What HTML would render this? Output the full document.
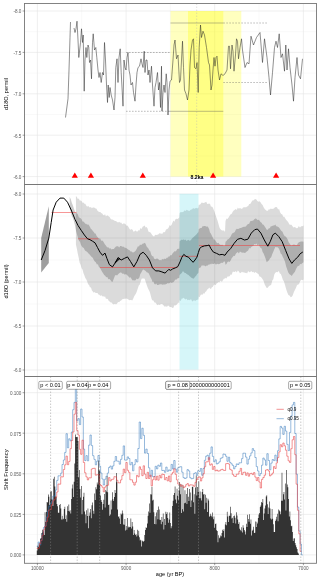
<!DOCTYPE html><html><head><meta charset="utf-8"><title>plot</title><style>html,body{margin:0;padding:0;background:#fff}svg{display:block}</style></head><body><svg width="320" height="581" viewBox="0 0 320 581" font-family="Liberation Sans, sans-serif"><rect width="320" height="581" fill="#fff"/><line x1="24.5" x2="316.5" y1="31.7" y2="31.7" stroke="#eeeeee" stroke-width="0.35"/><line x1="24.5" x2="316.5" y1="73.1" y2="73.1" stroke="#eeeeee" stroke-width="0.35"/><line x1="24.5" x2="316.5" y1="114.5" y2="114.5" stroke="#eeeeee" stroke-width="0.35"/><line x1="24.5" x2="316.5" y1="155.9" y2="155.9" stroke="#eeeeee" stroke-width="0.35"/><line x1="81.7" x2="81.7" y1="3.5" y2="184.5" stroke="#eeeeee" stroke-width="0.35"/><line x1="170.4" x2="170.4" y1="3.5" y2="184.5" stroke="#eeeeee" stroke-width="0.35"/><line x1="259.0" x2="259.0" y1="3.5" y2="184.5" stroke="#eeeeee" stroke-width="0.35"/><line x1="24.5" x2="316.5" y1="11.0" y2="11.0" stroke="#e4e4e4" stroke-width="0.6"/><line x1="24.5" x2="316.5" y1="52.4" y2="52.4" stroke="#e4e4e4" stroke-width="0.6"/><line x1="24.5" x2="316.5" y1="93.8" y2="93.8" stroke="#e4e4e4" stroke-width="0.6"/><line x1="24.5" x2="316.5" y1="135.2" y2="135.2" stroke="#e4e4e4" stroke-width="0.6"/><line x1="24.5" x2="316.5" y1="176.6" y2="176.6" stroke="#e4e4e4" stroke-width="0.6"/><line x1="37.4" x2="37.4" y1="3.5" y2="184.5" stroke="#e4e4e4" stroke-width="0.6"/><line x1="126.1" x2="126.1" y1="3.5" y2="184.5" stroke="#e4e4e4" stroke-width="0.6"/><line x1="214.7" x2="214.7" y1="3.5" y2="184.5" stroke="#e4e4e4" stroke-width="0.6"/><line x1="303.4" x2="303.4" y1="3.5" y2="184.5" stroke="#e4e4e4" stroke-width="0.6"/><rect x="170.5" y="11" width="70.8" height="165.6" fill="#ffff00" fill-opacity="0.25"/><rect x="188" y="11" width="35.3" height="165.6" fill="#ffff00" fill-opacity="0.3"/><line x1="196.7" x2="196.7" y1="3.5" y2="184.5" stroke="#b5b5b5" stroke-width="0.4" stroke-dasharray="1.5,1.5"/><g stroke="#555" stroke-width="0.4" fill="none"><line x1="170.5" x2="223.3" y1="23" y2="23"/><line x1="168" x2="223.3" y1="111.3" y2="111.3"/><g stroke-dasharray="1.6,1.4"><line x1="126" x2="170.5" y1="52.5" y2="52.5"/><line x1="126" x2="168" y1="111.3" y2="111.3"/><line x1="223.3" x2="268" y1="23" y2="23"/><line x1="223.3" x2="268" y1="82.5" y2="82.5"/></g></g><polyline points="65.5,117.5 68.0,98.8 69.0,70.0 70.0,37.5 70.5,22.0" fill="none" stroke="#222" stroke-width="0.5" stroke-linejoin="round"/><polyline points="74.0,28.0 75.0,32.5 76.0,28.8 77.0,21.2 78.0,40.0 78.8,57.5 80.5,42.5 81.5,28.8 82.5,42.5 83.2,35.0 84.2,91.2 85.0,60.0 86.0,47.5 86.8,57.5 88.0,45.0 88.8,47.5 89.5,62.5 90.5,60.0 91.5,78.8 92.5,42.5 93.2,33.8 94.5,50.0 95.8,47.5 96.8,57.5 98.0,70.0 99.0,77.5 100.0,72.5 101.2,82.5 102.5,72.5 103.5,75.0 104.5,42.5 105.5,60.0 106.5,85.0 107.5,102.5 108.2,85.0 109.2,97.5 110.0,87.5 111.2,95.0 112.5,100.0 114.0,110.0 115.0,97.5 115.8,67.5 117.0,58.8 118.0,82.5 119.0,57.5 120.2,48.8 121.2,72.5 123.0,106.2 124.0,60.0 125.0,67.5 126.0,70.0 127.0,57.5 128.0,52.5 129.0,70.0 130.0,75.0 131.0,85.0 132.5,82.5 133.5,92.5 135.0,101.2 136.0,85.0 137.0,72.5 138.0,67.5 139.5,66.2 141.0,58.8 142.0,63.8 143.0,67.5 144.2,51.2 145.0,72.5 146.0,60.0 147.0,60.0 148.0,75.0 149.0,70.0 150.0,82.5 151.5,66.2 152.5,85.0 154.0,106.2 155.0,87.5 156.0,82.5 157.5,72.5 158.5,90.0 159.5,82.5 160.5,107.5 161.5,66.2 162.0,111.2 163.0,92.5 164.0,85.0 165.0,92.5 166.2,73.8 167.0,82.5 168.0,115.0 169.0,90.0 170.0,81.2 171.5,80.0 173.0,60.0 174.0,45.0 175.0,40.0 176.5,58.8 178.0,55.0 179.5,82.5 180.5,80.0 181.5,60.0 182.5,41.2 183.5,67.5 184.5,90.0 186.0,93.8 187.5,100.0 189.0,90.0 190.0,65.0 191.0,50.0 192.5,40.0 193.5,38.8 194.5,67.5 196.0,68.8 197.0,62.5 198.2,92.5 199.2,47.5 200.5,25.0 201.5,37.5 203.0,31.2 204.5,35.0 206.5,47.5 208.5,62.5 209.5,65.0 211.0,90.0 212.0,85.0 213.0,70.0 214.0,57.5 215.0,66.2 216.0,57.5 217.0,56.2 218.0,70.0 219.5,80.0 221.0,73.8 223.0,75.5 225.0,73.8 227.0,70.0 228.5,46.2 229.5,46.2 230.5,68.8 232.0,45.0 233.0,51.2 234.0,71.2 235.5,55.0 236.5,38.8 237.5,41.2 238.5,58.8 240.0,47.5 241.5,38.8 242.5,50.0 245.0,67.5 247.0,62.5 249.0,63.8 251.0,36.2 253.5,45.0 256.5,37.5 260.0,32.5 262.5,62.5 264.5,38.8 267.0,57.5 269.0,77.5 270.5,95.0 272.5,72.5 274.5,47.5 276.0,41.2 277.5,47.5 279.2,33.8 281.0,57.5 282.5,53.8 284.5,71.2 285.8,45.0 287.0,70.0 288.5,48.8 290.0,67.5 292.0,85.0 293.5,101.2 295.0,77.5 297.0,57.5 298.5,75.0 300.5,78.8 302.5,58.8" fill="none" stroke="#222" stroke-width="0.5" stroke-linejoin="round"/><path d="M71.7,177.8L77.9,177.8L74.8,172.5Z" fill="#ff0000"/><path d="M87.8,177.8L94.0,177.8L90.9,172.5Z" fill="#ff0000"/><path d="M139.7,177.8L145.9,177.8L142.8,172.5Z" fill="#ff0000"/><path d="M210.0,177.8L216.2,177.8L213.1,172.5Z" fill="#ff0000"/><path d="M273.0,177.8L279.2,177.8L276.1,172.5Z" fill="#ff0000"/><text x="197" y="178.8" font-size="5.2" font-weight="bold" text-anchor="middle" fill="#000">8.2ka</text><line x1="24.5" x2="316.5" y1="216.0" y2="216.0" stroke="#eeeeee" stroke-width="0.35"/><line x1="24.5" x2="316.5" y1="260.0" y2="260.0" stroke="#eeeeee" stroke-width="0.35"/><line x1="24.5" x2="316.5" y1="304.0" y2="304.0" stroke="#eeeeee" stroke-width="0.35"/><line x1="24.5" x2="316.5" y1="348.0" y2="348.0" stroke="#eeeeee" stroke-width="0.35"/><line x1="81.7" x2="81.7" y1="184.5" y2="376.5" stroke="#eeeeee" stroke-width="0.35"/><line x1="170.4" x2="170.4" y1="184.5" y2="376.5" stroke="#eeeeee" stroke-width="0.35"/><line x1="259.0" x2="259.0" y1="184.5" y2="376.5" stroke="#eeeeee" stroke-width="0.35"/><line x1="24.5" x2="316.5" y1="194.0" y2="194.0" stroke="#e4e4e4" stroke-width="0.6"/><line x1="24.5" x2="316.5" y1="238.0" y2="238.0" stroke="#e4e4e4" stroke-width="0.6"/><line x1="24.5" x2="316.5" y1="282.0" y2="282.0" stroke="#e4e4e4" stroke-width="0.6"/><line x1="24.5" x2="316.5" y1="326.0" y2="326.0" stroke="#e4e4e4" stroke-width="0.6"/><line x1="24.5" x2="316.5" y1="370.0" y2="370.0" stroke="#e4e4e4" stroke-width="0.6"/><line x1="37.4" x2="37.4" y1="184.5" y2="376.5" stroke="#e4e4e4" stroke-width="0.6"/><line x1="126.1" x2="126.1" y1="184.5" y2="376.5" stroke="#e4e4e4" stroke-width="0.6"/><line x1="214.7" x2="214.7" y1="184.5" y2="376.5" stroke="#e4e4e4" stroke-width="0.6"/><line x1="303.4" x2="303.4" y1="184.5" y2="376.5" stroke="#e4e4e4" stroke-width="0.6"/><polygon points="75.9,195.9 76.9,197.0 77.8,198.9 78.8,198.6 79.7,200.6 80.6,200.6 81.6,201.1 82.5,202.7 83.4,202.6 84.4,203.8 85.3,203.7 86.2,205.5 87.2,206.8 88.1,205.7 89.1,206.9 90.0,207.5 90.9,206.9 91.9,208.2 92.8,207.6 93.8,207.5 94.7,207.7 95.6,208.4 96.6,208.7 97.5,210.7 98.4,211.6 99.4,211.9 100.3,212.0 101.2,213.1 102.2,213.6 103.1,214.7 104.1,215.6 105.0,214.1 105.9,216.5 106.9,215.4 107.8,215.6 108.8,216.6 109.7,217.0 110.6,218.7 111.6,219.5 112.5,219.4 113.8,220.3 115.0,220.9 116.0,221.1 117.1,222.0 118.1,222.6 119.2,221.7 120.2,222.8 121.2,222.5 122.3,224.2 123.3,223.5 124.4,223.4 125.4,223.9 126.5,225.7 127.5,225.6 128.5,227.1 129.6,228.9 130.6,229.7 131.7,229.1 132.7,230.0 133.8,231.9 134.7,230.9 135.6,230.4 136.6,231.5 137.5,231.6 138.4,230.3 139.5,230.6 140.5,228.1 141.6,228.9 142.6,226.7 143.6,226.2 144.7,225.6 145.6,227.5 146.6,227.0 147.5,228.3 148.4,231.5 149.4,231.9 150.3,232.3 151.2,233.4 152.2,234.9 153.1,236.1 154.1,236.6 155.1,234.8 156.1,235.1 157.2,234.8 158.2,234.4 159.3,233.2 160.3,233.4 161.2,233.4 162.2,234.0 163.1,232.2 164.1,232.3 165.0,231.9 165.9,229.7 166.9,229.0 167.8,228.8 168.8,227.2 169.7,225.0 170.6,225.9 171.6,224.8 172.5,222.5 173.4,220.5 174.4,221.8 175.3,219.4 176.3,218.8 177.3,219.0 178.3,218.4 179.3,217.3 179.6,213.1 180.8,212.1 181.9,212.2 182.8,212.0 183.8,211.4 184.7,210.3 185.6,211.1 186.6,209.7 187.5,210.3 188.5,210.8 189.4,211.1 190.3,210.1 191.3,209.4 192.2,209.2 193.1,207.9 194.1,208.7 195.0,208.5 196.1,207.8 197.3,208.4 198.4,207.5 198.8,204.7 199.7,204.7 200.6,203.9 201.6,202.5 202.5,202.8 203.5,203.0 204.4,202.8 205.3,202.3 206.3,201.8 207.2,204.0 208.2,203.8 209.1,203.8 210.0,203.7 211.0,206.8 211.9,206.6 212.8,207.5 213.8,209.9 214.7,212.2 215.7,215.6 216.6,218.1 217.5,220.6 218.5,224.1 219.4,227.2 220.3,229.0 221.3,230.0 222.2,230.4 223.2,230.5 224.1,230.6 225.0,231.9 225.5,221.1 226.5,218.6 227.5,218.9 228.6,217.6 229.6,215.7 230.6,214.2 231.7,213.8 232.7,211.8 233.7,210.5 234.8,209.8 235.8,209.1 236.8,209.9 237.8,207.6 238.9,208.7 239.9,207.9 240.9,208.4 242.0,208.9 243.0,207.6 244.0,207.3 245.1,207.3 246.1,207.3 247.1,206.4 248.2,206.0 249.2,203.9 250.2,204.1 251.3,202.2 252.3,200.6 253.3,200.5 254.3,199.5 255.4,199.0 256.4,199.4 257.4,201.1 258.5,201.8 259.5,201.3 260.5,202.2 261.6,203.9 262.6,205.1 263.6,207.3 264.7,208.9 265.7,210.1 266.7,210.8 267.8,210.7 268.8,209.2 269.8,209.5 270.8,208.6 271.9,209.1 272.9,208.8 273.9,208.6 275.0,207.3 276.0,207.0 277.0,207.3 278.1,209.5 279.1,208.9 280.1,212.3 281.2,213.9 282.2,214.2 283.2,216.8 284.3,216.7 285.3,218.5 286.3,219.9 287.3,221.1 288.4,222.5 289.4,224.4 290.4,224.7 291.5,224.7 292.5,226.3 293.5,227.5 294.6,226.9 295.6,227.5 296.6,228.2 297.7,228.0 298.8,226.1 300.0,227.5 301.1,226.3 302.3,226.3 303.5,225.6 303.5,279.5 302.4,280.3 301.2,279.7 300.1,281.3 299.0,284.2 298.0,284.4 297.0,285.3 295.9,288.1 294.9,289.9 293.9,292.0 292.8,295.2 291.8,296.7 290.7,297.2 289.5,295.4 288.4,295.0 287.3,292.5 286.1,289.1 285.0,285.1 283.9,281.3 282.9,280.1 281.8,276.4 280.8,274.0 279.8,273.5 278.8,270.9 277.6,272.2 276.5,272.0 275.3,272.7 274.3,274.4 273.3,279.2 272.2,280.8 271.2,284.7 270.1,285.5 269.0,286.1 267.8,287.8 266.7,288.1 265.7,286.3 264.7,284.6 263.6,281.1 262.6,279.3 261.6,277.8 260.5,276.7 259.5,276.5 258.5,274.0 257.4,273.5 256.4,272.7 255.4,272.0 254.3,273.1 253.3,271.8 252.3,272.2 251.3,270.9 250.2,271.9 249.2,272.3 248.2,271.1 247.1,273.4 246.1,272.7 245.1,273.1 244.0,272.2 243.0,272.4 242.0,271.7 240.9,272.7 239.9,273.2 238.9,271.4 237.8,270.6 236.8,272.4 235.8,270.9 234.8,271.9 233.7,271.8 232.7,271.8 231.7,274.8 230.6,274.4 229.6,276.2 228.6,276.5 227.5,276.4 226.5,278.4 225.5,277.8 225.0,278.8 224.1,278.5 223.2,279.7 222.2,281.5 221.3,281.5 220.3,280.7 219.4,282.5 218.5,282.0 217.5,283.1 216.6,283.6 215.7,285.3 214.7,284.6 213.8,285.0 212.8,287.0 211.9,287.2 211.0,288.9 210.0,288.6 209.1,287.6 208.2,289.1 207.2,289.6 206.3,291.3 205.3,291.9 204.4,293.7 203.5,293.2 202.5,294.7 201.6,294.5 200.6,295.1 199.7,297.3 198.8,296.6 198.4,299.4 197.2,299.8 196.0,300.3 195.0,301.3 194.1,300.1 193.1,300.9 192.2,301.4 191.3,299.5 190.3,299.5 189.4,300.3 188.5,299.7 187.5,300.2 186.6,298.8 185.6,299.4 184.7,299.0 183.8,297.7 182.8,298.5 181.8,298.4 180.7,300.9 179.6,300.3 179.3,303.2 178.3,302.6 177.3,304.1 176.3,305.0 175.3,305.5 174.4,305.3 173.4,307.7 172.5,307.9 171.6,307.3 170.6,307.1 169.7,306.9 168.8,305.7 167.8,305.8 166.9,306.9 165.9,306.1 165.0,306.9 163.4,305.3 162.4,304.3 161.4,304.1 160.3,304.5 159.3,305.1 158.2,304.5 157.2,305.3 156.2,303.6 155.3,302.6 154.4,302.4 153.4,300.6 152.5,300.6 151.6,298.9 150.6,294.9 149.7,291.8 148.8,289.9 147.8,288.1 146.8,285.3 145.7,282.0 144.7,278.8 143.6,278.4 142.6,278.4 141.6,278.8 140.6,281.8 139.7,284.8 138.8,285.4 137.8,288.5 136.9,291.2 135.9,293.8 135.0,294.9 134.1,296.4 133.1,299.1 132.2,300.6 131.2,300.1 130.3,300.1 129.4,300.2 128.4,299.4 127.5,299.1 126.5,298.4 125.4,298.8 124.4,298.7 123.3,298.9 122.3,299.3 121.2,300.6 120.2,301.1 119.2,302.3 118.1,302.0 117.1,303.6 116.0,304.4 115.0,303.8 113.8,304.5 112.5,303.8 111.6,302.4 110.6,302.5 109.7,301.5 108.8,301.1 107.8,299.1 106.9,298.7 105.9,298.7 105.0,296.2 104.1,297.1 103.1,295.9 102.2,296.6 101.2,294.9 100.3,296.1 99.4,294.8 98.4,294.4 97.5,293.0 96.6,293.1 95.6,293.1 94.7,292.0 93.8,292.8 92.8,291.6 91.9,290.4 90.9,287.2 90.0,287.6 89.1,285.0 88.1,284.3 87.2,281.4 86.2,279.2 85.3,277.9 84.4,275.6 83.4,273.1 82.5,269.4 81.6,268.2 80.6,264.8 79.7,263.1 78.8,258.3 77.8,253.8 76.9,249.0 75.9,244.4" fill="#000" fill-opacity="0.14"/><polygon points="69.7,196.9 70.8,199.3 71.8,202.8 72.9,205.4 73.9,208.8 75.0,211.6 75.9,213.1 76.9,213.2 77.8,214.3 78.8,217.2 79.7,217.8 80.6,218.3 81.6,219.2 82.5,221.6 83.4,221.5 84.4,222.5 85.3,223.8 86.2,223.7 87.2,224.7 88.1,224.3 89.1,225.6 90.0,227.1 90.9,228.9 91.9,229.4 92.8,231.1 93.8,231.9 94.7,233.5 95.6,233.5 96.6,236.1 97.5,237.1 98.4,238.1 99.4,238.4 100.3,238.4 101.2,240.7 102.2,240.6 103.1,241.2 104.1,242.9 105.0,244.5 105.9,245.4 106.9,247.1 107.8,247.5 108.8,247.6 109.7,248.7 110.6,248.3 111.6,249.6 112.5,249.1 113.8,249.0 115.0,247.5 116.0,246.4 117.1,246.3 118.1,246.2 119.2,247.4 120.2,246.1 121.2,245.9 122.3,246.7 123.3,246.6 124.4,247.5 125.4,247.8 126.5,248.2 127.5,249.1 128.5,249.8 129.6,250.3 130.6,251.4 131.7,251.5 132.7,252.5 133.8,252.2 134.8,251.6 135.8,250.6 136.9,248.6 137.9,246.3 139.0,246.4 140.0,244.4 140.9,245.0 141.9,244.6 142.8,243.6 143.8,243.6 144.7,242.8 145.6,243.8 146.6,246.6 147.5,247.6 148.4,248.6 149.4,250.6 150.3,251.3 151.2,254.5 152.2,256.3 153.1,256.1 154.1,258.4 155.1,259.3 156.1,258.8 157.2,258.5 158.2,259.1 159.3,260.3 160.3,260.0 161.2,260.6 162.2,258.7 163.1,259.7 164.1,258.4 165.0,259.1 165.9,258.8 166.9,257.4 167.8,257.8 168.8,256.3 169.7,256.6 170.6,254.9 171.6,255.2 172.5,253.5 173.4,252.4 174.4,251.2 175.3,251.6 176.3,250.7 177.3,249.1 178.3,248.8 179.3,248.8 179.6,241.3 180.8,240.2 181.9,239.4 182.8,239.9 183.8,239.3 184.7,240.3 185.6,239.4 186.6,241.1 187.5,240.3 188.5,239.7 189.4,240.8 190.3,240.4 191.3,239.4 192.2,238.2 193.1,237.5 194.1,236.6 195.0,235.7 196.1,234.7 197.3,233.3 198.4,231.9 198.8,229.1 199.7,228.5 200.6,227.9 201.6,227.9 202.5,226.3 203.5,226.2 204.4,225.9 205.3,225.9 206.3,226.8 207.2,226.3 208.2,227.2 209.1,229.0 210.0,232.5 211.0,233.8 211.9,235.7 212.8,237.6 213.8,239.4 214.7,239.4 215.7,241.1 216.6,242.4 217.5,243.2 218.5,242.7 219.4,244.3 220.3,244.8 221.3,245.0 222.2,244.4 223.2,245.8 224.1,245.7 225.0,246.0 225.5,241.7 226.5,241.0 227.5,239.4 228.6,239.0 229.6,238.1 230.6,236.6 231.7,234.2 232.7,232.9 233.7,232.8 234.8,232.0 235.8,229.7 236.8,228.8 237.8,228.9 238.9,228.8 239.9,228.0 240.9,228.0 242.0,227.4 243.0,226.9 244.0,226.7 245.1,226.8 246.1,226.3 247.1,224.8 248.2,223.9 249.2,223.7 250.2,221.2 251.3,221.1 252.3,220.8 253.3,220.6 254.3,219.3 255.4,218.6 256.4,218.7 257.4,220.1 258.5,219.8 259.5,220.5 260.5,221.9 261.6,222.8 262.6,224.6 263.6,224.8 264.7,226.6 265.7,228.0 266.7,229.7 267.8,229.7 268.8,228.2 269.8,228.3 270.8,226.3 271.9,226.3 273.0,225.4 274.2,225.4 275.3,224.5 276.3,226.3 277.4,226.5 278.4,227.1 279.4,227.9 280.5,229.7 281.5,231.1 282.5,231.8 283.6,234.4 284.6,235.9 285.6,236.6 286.7,237.7 287.7,239.6 288.7,242.3 289.8,243.7 290.8,245.2 291.8,245.8 292.8,244.8 293.9,244.4 294.9,244.7 295.9,245.2 297.0,244.9 298.0,243.0 299.0,242.3 300.1,241.7 301.2,241.6 302.4,241.6 303.5,241.7 303.5,262.3 302.4,263.0 301.2,264.3 300.1,264.1 299.0,265.9 298.0,265.8 297.0,267.2 295.9,269.2 294.9,271.7 293.9,272.9 292.8,274.3 291.8,276.1 290.7,275.0 289.5,274.2 288.4,272.7 287.3,269.7 286.1,266.2 285.0,261.7 283.9,258.9 282.9,257.3 281.8,254.6 280.8,253.7 279.8,250.7 278.8,248.6 277.6,247.2 276.5,247.3 275.3,246.9 274.3,249.2 273.3,251.8 272.2,254.3 271.2,257.2 270.1,258.3 269.0,260.3 267.8,261.3 266.7,262.3 265.7,259.1 264.7,256.2 263.6,253.6 262.6,252.0 261.6,248.6 260.5,247.7 259.5,246.2 258.5,244.6 257.4,245.3 256.4,243.4 255.4,244.6 254.3,244.0 253.3,245.9 252.3,246.2 251.3,246.9 250.2,248.4 249.2,248.0 248.2,250.6 247.1,251.2 246.1,252.0 245.1,252.9 244.0,252.7 243.0,252.4 242.0,252.7 240.9,252.0 239.9,251.6 238.9,253.4 237.8,252.1 236.8,252.8 235.8,253.8 234.8,255.9 233.7,255.7 232.7,257.1 231.7,258.3 230.6,260.6 229.6,262.0 228.6,261.6 227.5,262.1 226.5,264.1 225.5,264.8 225.0,261.9 224.1,261.3 223.2,262.5 222.2,263.1 221.3,262.8 220.3,263.4 219.4,263.9 218.5,264.3 217.5,263.8 216.6,264.2 215.7,264.6 214.7,263.3 213.8,264.1 212.8,264.0 211.9,263.5 211.0,264.4 210.0,263.8 209.1,265.0 208.2,264.4 207.2,266.0 206.3,265.6 205.3,266.4 204.4,265.5 203.5,265.5 202.5,265.6 201.6,265.5 200.6,267.4 199.7,267.8 198.8,268.5 198.4,273.1 197.2,274.0 196.0,276.0 195.0,276.8 194.1,278.2 193.1,278.8 192.2,277.9 191.3,277.8 190.3,276.7 189.4,276.0 188.5,275.0 187.5,274.4 186.6,274.1 185.6,273.1 184.7,273.1 183.8,271.7 182.8,271.3 181.8,273.1 180.7,274.0 179.6,275.0 179.3,277.8 178.3,278.2 177.3,278.4 176.3,279.7 175.3,279.6 174.4,280.9 173.4,282.3 172.5,282.5 171.6,282.9 170.6,282.2 169.7,282.9 168.8,283.5 167.8,283.1 166.9,283.7 165.9,284.3 165.0,284.4 163.4,284.4 162.4,284.8 161.4,284.3 160.3,284.3 159.3,284.4 158.2,284.9 157.2,285.0 156.2,283.5 155.3,284.5 154.4,284.1 153.4,281.6 152.5,281.9 151.6,279.2 150.6,277.4 149.7,275.4 148.8,273.4 147.8,272.5 146.9,272.4 145.9,271.2 145.0,270.5 144.1,270.1 143.1,269.4 142.2,270.8 141.2,272.7 140.3,274.1 139.4,277.6 138.4,278.8 137.5,279.3 136.6,278.4 135.6,280.3 134.7,280.6 133.8,280.3 132.7,280.4 131.7,279.3 130.6,277.3 129.6,277.8 128.5,276.5 127.5,275.6 126.5,274.5 125.4,274.3 124.4,274.6 123.3,273.5 122.3,273.7 121.2,272.5 120.2,272.5 119.2,273.2 118.1,274.3 117.1,275.5 116.0,274.9 115.0,275.6 113.8,278.8 112.5,281.9 111.5,281.4 110.4,279.9 109.4,278.9 108.3,279.2 107.3,277.0 106.2,277.2 105.2,275.8 104.2,274.9 103.1,273.3 102.1,271.8 101.0,269.8 100.0,267.8 99.0,267.3 97.9,264.3 96.9,264.5 95.8,262.2 94.8,261.5 93.8,260.0 92.7,257.8 91.7,256.9 90.6,255.8 89.6,254.4 88.5,253.5 87.5,252.2 86.6,251.6 85.6,251.0 84.7,249.9 83.8,247.9 82.8,247.5 81.9,246.5 80.9,244.7 80.0,241.7 79.1,241.0 78.1,238.1 77.1,234.7 76.0,230.7 75.0,225.6 73.9,221.2 72.9,218.1 71.8,216.2 70.8,211.7 69.7,208.4" fill="#000" fill-opacity="0.2"/><polygon points="41.2,238.1 48.8,206.2 48.8,263.1 41.2,272.5" fill="#000" fill-opacity="0.38"/><rect x="179.5" y="193.8" width="19" height="175.8" fill="#00c8dc" fill-opacity="0.16"/><g stroke="#f04040" stroke-width="0.55"><line x1="51.5" x2="76.5" y1="212.5" y2="212.5"/><line x1="78" x2="98.4" y1="238.8" y2="238.8"/><line x1="100" x2="177.5" y1="267.5" y2="267.5"/><line x1="179" x2="197.8" y1="256.3" y2="256.3"/><line x1="199" x2="300" y1="245.5" y2="245.5"/></g><polyline points="41.2,260.0 45.0,250.6 48.8,238.1 51.2,222.5 53.1,210.0 56.2,202.2 60.0,198.1 63.8,198.1 67.5,202.2 71.2,210.0 75.0,219.4 78.1,225.6 81.2,230.3 84.4,235.0 87.5,238.8 90.0,239.7 92.5,241.2 95.0,242.8 97.5,247.5 100.0,252.2 102.5,255.3 105.0,253.1 106.9,258.4 109.4,264.7 112.5,266.9 115.0,263.1 117.5,259.4 120.0,258.4 115.0,263.1 118.1,257.5 121.2,260.0 124.4,258.4 127.5,256.9 130.6,261.6 133.8,266.9 136.9,261.6 140.0,254.4 143.1,252.2 146.2,255.3 149.4,260.0 152.5,267.8 155.6,270.9 158.8,270.9 161.9,271.9 165.0,273.1 166.9,271.3 168.8,269.4 170.6,270.3 172.5,269.0 175.3,267.9 177.8,266.6 180.0,261.9 181.9,257.2 183.8,254.4 186.0,256.3 188.5,257.2 190.9,260.0 193.1,262.3 195.0,260.0 196.9,257.2 198.4,252.5 199.7,248.4 201.6,246.9 204.4,245.9 207.2,245.6 209.1,245.0 211.0,248.8 213.4,252.1 216.6,253.4 219.4,254.8 222.2,254.4 225.0,255.3 227.2,252.0 230.6,248.6 234.1,243.4 237.5,239.3 240.9,238.3 244.4,240.0 247.8,239.3 251.3,233.1 254.7,229.7 257.4,229.0 260.9,233.1 264.3,240.0 267.8,246.2 270.2,241.7 272.9,234.8 275.3,233.1 278.8,236.6 282.2,241.7 285.6,250.3 289.1,258.9 291.8,263.4 294.6,259.9 297.7,257.2 300.1,253.8 302.8,252.0" fill="none" stroke="#000" stroke-width="1.0" stroke-linejoin="round"/><line x1="24.5" x2="316.5" y1="413.0" y2="413.0" stroke="#eeeeee" stroke-width="0.35"/><line x1="24.5" x2="316.5" y1="453.6" y2="453.6" stroke="#eeeeee" stroke-width="0.35"/><line x1="24.5" x2="316.5" y1="494.1" y2="494.1" stroke="#eeeeee" stroke-width="0.35"/><line x1="24.5" x2="316.5" y1="534.6" y2="534.6" stroke="#eeeeee" stroke-width="0.35"/><line x1="81.7" x2="81.7" y1="376.5" y2="563.3" stroke="#eeeeee" stroke-width="0.35"/><line x1="170.4" x2="170.4" y1="376.5" y2="563.3" stroke="#eeeeee" stroke-width="0.35"/><line x1="259.0" x2="259.0" y1="376.5" y2="563.3" stroke="#eeeeee" stroke-width="0.35"/><line x1="24.5" x2="316.5" y1="392.7" y2="392.7" stroke="#e4e4e4" stroke-width="0.6"/><line x1="24.5" x2="316.5" y1="433.2" y2="433.2" stroke="#e4e4e4" stroke-width="0.6"/><line x1="24.5" x2="316.5" y1="473.8" y2="473.8" stroke="#e4e4e4" stroke-width="0.6"/><line x1="24.5" x2="316.5" y1="514.4" y2="514.4" stroke="#e4e4e4" stroke-width="0.6"/><line x1="24.5" x2="316.5" y1="554.9" y2="554.9" stroke="#e4e4e4" stroke-width="0.6"/><line x1="37.4" x2="37.4" y1="376.5" y2="563.3" stroke="#e4e4e4" stroke-width="0.6"/><line x1="126.1" x2="126.1" y1="376.5" y2="563.3" stroke="#e4e4e4" stroke-width="0.6"/><line x1="214.7" x2="214.7" y1="376.5" y2="563.3" stroke="#e4e4e4" stroke-width="0.6"/><line x1="303.4" x2="303.4" y1="376.5" y2="563.3" stroke="#e4e4e4" stroke-width="0.6"/><path d="M36.80,554.9L36.80,550.4L37.46,550.4L37.46,545.8L38.12,545.8L38.12,546.8L38.78,546.8L38.78,543.1L39.44,543.1L39.44,544.8L40.10,544.8L40.10,538.7L40.76,538.7L40.76,537.9L41.42,537.9L41.42,533.1L42.08,533.1L42.08,529.7L42.74,529.7L42.74,532.4L43.40,532.4L43.40,530.8L44.06,530.8L44.06,535.1L44.72,535.1L44.72,512.2L45.38,512.2L45.38,521.9L46.04,521.9L46.04,512.1L46.70,512.1L46.70,502.1L47.36,502.1L47.36,502.4L48.02,502.4L48.02,494.4L48.68,494.4L48.68,496.8L49.34,496.8L49.34,505.0L50.00,505.0L50.00,491.7L50.66,491.7L50.66,499.4L51.32,499.4L51.32,491.2L51.98,491.2L51.98,499.5L52.64,499.5L52.64,506.1L53.30,506.1L53.30,478.8L53.96,478.8L53.96,476.8L54.62,476.8L54.62,486.6L55.28,486.6L55.28,496.4L55.94,496.4L55.94,496.8L56.60,496.8L56.60,504.1L57.26,504.1L57.26,506.2L57.92,506.2L57.92,512.8L58.58,512.8L58.58,512.8L59.24,512.8L59.24,505.1L59.90,505.1L59.90,504.1L60.56,504.1L60.56,508.5L61.22,508.5L61.22,519.4L61.88,519.4L61.88,515.7L62.54,515.7L62.54,519.4L63.20,519.4L63.20,518.8L63.86,518.8L63.86,509.1L64.52,509.1L64.52,506.8L65.18,506.8L65.18,519.1L65.84,519.1L65.84,515.2L66.50,515.2L66.50,521.7L67.16,521.7L67.16,506.3L67.82,506.3L67.82,511.1L68.48,511.1L68.48,504.6L69.14,504.6L69.14,511.6L69.80,511.6L69.80,510.3L70.46,510.3L70.46,513.5L71.12,513.5L71.12,498.9L71.78,498.9L71.78,488.4L72.44,488.4L72.44,484.5L73.10,484.5L73.10,497.1L73.76,497.1L73.76,481.7L74.42,481.7L74.42,463.4L75.08,463.4L75.08,434.5L75.74,434.5L75.74,437.0L76.40,437.0L76.40,437.0L77.06,437.0L77.06,437.0L77.72,437.0L77.72,440.9L78.38,440.9L78.38,477.2L79.04,477.2L79.04,470.0L79.70,470.0L79.70,489.0L80.36,489.0L80.36,497.5L81.02,497.5L81.02,486.0L81.68,486.0L81.68,514.2L82.34,514.2L82.34,500.1L83.00,500.1L83.00,496.7L83.66,496.7L83.66,492.7L84.32,492.7L84.32,511.6L84.98,511.6L84.98,514.5L85.64,514.5L85.64,523.3L86.30,523.3L86.30,510.3L86.96,510.3L86.96,516.0L87.62,516.0L87.62,508.6L88.28,508.6L88.28,528.3L88.94,528.3L88.94,515.8L89.60,515.8L89.60,512.6L90.26,512.6L90.26,509.0L90.92,509.0L90.92,518.2L91.58,518.2L91.58,505.3L92.24,505.3L92.24,502.5L92.90,502.5L92.90,510.8L93.56,510.8L93.56,513.8L94.22,513.8L94.22,493.5L94.88,493.5L94.88,500.0L95.54,500.0L95.54,487.2L96.20,487.2L96.20,489.3L96.86,489.3L96.86,482.6L97.52,482.6L97.52,484.5L98.18,484.5L98.18,460.6L98.84,460.6L98.84,469.7L99.50,469.7L99.50,471.3L100.16,471.3L100.16,495.4L100.82,495.4L100.82,500.0L101.48,500.0L101.48,501.9L102.14,501.9L102.14,509.7L102.80,509.7L102.80,504.1L103.46,504.1L103.46,499.7L104.12,499.7L104.12,493.9L104.78,493.9L104.78,507.6L105.44,507.6L105.44,490.1L106.10,490.1L106.10,491.6L106.76,491.6L106.76,476.1L107.42,476.1L107.42,492.3L108.08,492.3L108.08,505.0L108.74,505.0L108.74,504.6L109.40,504.6L109.40,515.7L110.06,515.7L110.06,514.4L110.72,514.4L110.72,500.6L111.38,500.6L111.38,509.4L112.04,509.4L112.04,492.3L112.70,492.3L112.70,499.2L113.36,499.2L113.36,501.0L114.02,501.0L114.02,496.9L114.68,496.9L114.68,489.9L115.34,489.9L115.34,493.0L116.00,493.0L116.00,473.0L116.66,473.0L116.66,482.2L117.32,482.2L117.32,509.4L117.98,509.4L117.98,516.8L118.64,516.8L118.64,516.3L119.30,516.3L119.30,518.5L119.96,518.5L119.96,524.0L120.62,524.0L120.62,513.4L121.28,513.4L121.28,514.6L121.94,514.6L121.94,510.5L122.60,510.5L122.60,513.4L123.26,513.4L123.26,524.5L123.92,524.5L123.92,524.8L124.58,524.8L124.58,518.9L125.24,518.9L125.24,530.6L125.90,530.6L125.90,526.0L126.56,526.0L126.56,529.7L127.22,529.7L127.22,518.1L127.88,518.1L127.88,527.4L128.54,527.4L128.54,526.4L129.20,526.4L129.20,527.3L129.86,527.3L129.86,527.0L130.52,527.0L130.52,518.5L131.18,518.5L131.18,528.5L131.84,528.5L131.84,521.9L132.50,521.9L132.50,526.6L133.16,526.6L133.16,535.0L133.82,535.0L133.82,530.1L134.48,530.1L134.48,533.6L135.14,533.6L135.14,534.9L135.80,534.9L135.80,534.3L136.46,534.3L136.46,536.4L137.12,536.4L137.12,529.7L137.78,529.7L137.78,535.6L138.44,535.6L138.44,530.8L139.10,530.8L139.10,537.2L139.76,537.2L139.76,540.4L140.42,540.4L140.42,539.7L141.08,539.7L141.08,546.4L141.74,546.4L141.74,540.4L142.40,540.4L142.40,541.2L143.06,541.2L143.06,541.8L143.72,541.8L143.72,540.9L144.38,540.9L144.38,535.1L145.04,535.1L145.04,530.0L145.70,530.0L145.70,527.2L146.36,527.2L146.36,527.9L147.02,527.9L147.02,523.4L147.68,523.4L147.68,515.7L148.34,515.7L148.34,511.6L149.00,511.6L149.00,503.4L149.66,503.4L149.66,512.7L150.32,512.7L150.32,494.3L150.98,494.3L150.98,494.6L151.64,494.6L151.64,486.7L152.30,486.7L152.30,500.6L152.96,500.6L152.96,499.8L153.62,499.8L153.62,512.3L154.28,512.3L154.28,524.1L154.94,524.1L154.94,516.3L155.60,516.3L155.60,524.2L156.26,524.2L156.26,512.4L156.92,512.4L156.92,510.1L157.58,510.1L157.58,519.3L158.24,519.3L158.24,506.5L158.90,506.5L158.90,509.6L159.56,509.6L159.56,519.7L160.22,519.7L160.22,520.0L160.88,520.0L160.88,524.2L161.54,524.2L161.54,516.9L162.20,516.9L162.20,521.7L162.86,521.7L162.86,513.5L163.52,513.5L163.52,529.5L164.18,529.5L164.18,519.1L164.84,519.1L164.84,525.0L165.50,525.0L165.50,511.8L166.16,511.8L166.16,514.1L166.82,514.1L166.82,512.3L167.48,512.3L167.48,517.9L168.14,517.9L168.14,522.8L168.80,522.8L168.80,519.4L169.46,519.4L169.46,512.6L170.12,512.6L170.12,523.1L170.78,523.1L170.78,528.2L171.44,528.2L171.44,526.2L172.10,526.2L172.10,506.0L172.76,506.0L172.76,500.8L173.42,500.8L173.42,495.0L174.08,495.0L174.08,493.0L174.74,493.0L174.74,486.4L175.40,486.4L175.40,499.6L176.06,499.6L176.06,503.3L176.72,503.3L176.72,488.7L177.38,488.7L177.38,495.8L178.04,495.8L178.04,499.7L178.70,499.7L178.70,490.5L179.36,490.5L179.36,482.1L180.02,482.1L180.02,494.2L180.68,494.2L180.68,484.0L181.34,484.0L181.34,512.9L182.00,512.9L182.00,509.2L182.66,509.2L182.66,485.4L183.32,485.4L183.32,511.6L183.98,511.6L183.98,503.3L184.64,503.3L184.64,490.2L185.30,490.2L185.30,502.8L185.96,502.8L185.96,494.0L186.62,494.0L186.62,503.9L187.28,503.9L187.28,488.1L187.94,488.1L187.94,496.8L188.60,496.8L188.60,501.1L189.26,501.1L189.26,489.1L189.92,489.1L189.92,492.5L190.58,492.5L190.58,507.0L191.24,507.0L191.24,500.6L191.90,500.6L191.90,486.9L192.56,486.9L192.56,486.6L193.22,486.6L193.22,502.2L193.88,502.2L193.88,494.2L194.54,494.2L194.54,513.7L195.20,513.7L195.20,487.5L195.86,487.5L195.86,475.6L196.52,475.6L196.52,495.4L197.18,495.4L197.18,486.9L197.84,486.9L197.84,492.0L198.50,492.0L198.50,481.3L199.16,481.3L199.16,498.3L199.82,498.3L199.82,491.5L200.48,491.5L200.48,498.2L201.14,498.2L201.14,500.6L201.80,500.6L201.80,491.9L202.46,491.9L202.46,489.0L203.12,489.0L203.12,494.4L203.78,494.4L203.78,494.1L204.44,494.1L204.44,509.2L205.10,509.2L205.10,494.8L205.76,494.8L205.76,502.8L206.42,502.8L206.42,497.8L207.08,497.8L207.08,511.9L207.74,511.9L207.74,498.8L208.40,498.8L208.40,500.5L209.06,500.5L209.06,516.7L209.72,516.7L209.72,515.8L210.38,515.8L210.38,513.7L211.04,513.7L211.04,515.7L211.70,515.7L211.70,517.3L212.36,517.3L212.36,512.6L213.02,512.6L213.02,519.3L213.68,519.3L213.68,516.6L214.34,516.6L214.34,527.8L215.00,527.8L215.00,524.0L215.66,524.0L215.66,523.5L216.32,523.5L216.32,530.3L216.98,530.3L216.98,531.0L217.64,531.0L217.64,542.2L218.30,542.2L218.30,535.2L218.96,535.2L218.96,538.3L219.62,538.3L219.62,537.6L220.28,537.6L220.28,535.6L220.94,535.6L220.94,536.2L221.60,536.2L221.60,533.1L222.26,533.1L222.26,529.8L222.92,529.8L222.92,531.1L223.58,531.1L223.58,529.3L224.24,529.3L224.24,537.6L224.90,537.6L224.90,524.5L225.56,524.5L225.56,521.9L226.22,521.9L226.22,525.2L226.88,525.2L226.88,511.7L227.54,511.7L227.54,516.4L228.20,516.4L228.20,522.1L228.86,522.1L228.86,515.4L229.52,515.4L229.52,516.1L230.18,516.1L230.18,506.7L230.84,506.7L230.84,513.2L231.50,513.2L231.50,518.5L232.16,518.5L232.16,517.8L232.82,517.8L232.82,523.0L233.48,523.0L233.48,516.0L234.14,516.0L234.14,515.5L234.80,515.5L234.80,517.8L235.46,517.8L235.46,523.5L236.12,523.5L236.12,512.2L236.78,512.2L236.78,515.5L237.44,515.5L237.44,519.4L238.10,519.4L238.10,523.9L238.76,523.9L238.76,522.2L239.42,522.2L239.42,528.7L240.08,528.7L240.08,530.0L240.74,530.0L240.74,531.2L241.40,531.2L241.40,527.2L242.06,527.2L242.06,532.4L242.72,532.4L242.72,525.3L243.38,525.3L243.38,527.7L244.04,527.7L244.04,530.1L244.70,530.1L244.70,531.5L245.36,531.5L245.36,534.4L246.02,534.4L246.02,523.7L246.68,523.7L246.68,527.0L247.34,527.0L247.34,514.7L248.00,514.7L248.00,519.0L248.66,519.0L248.66,521.8L249.32,521.8L249.32,514.2L249.98,514.2L249.98,523.7L250.64,523.7L250.64,519.6L251.30,519.6L251.30,535.5L251.96,535.5L251.96,530.7L252.62,530.7L252.62,529.8L253.28,529.8L253.28,526.7L253.94,526.7L253.94,533.0L254.60,533.0L254.60,532.7L255.26,532.7L255.26,521.5L255.92,521.5L255.92,527.1L256.58,527.1L256.58,521.7L257.24,521.7L257.24,523.6L257.90,523.6L257.90,518.0L258.56,518.0L258.56,514.6L259.22,514.6L259.22,513.0L259.88,513.0L259.88,507.0L260.54,507.0L260.54,505.5L261.20,505.5L261.20,501.9L261.86,501.9L261.86,502.7L262.52,502.7L262.52,499.0L263.18,499.0L263.18,520.0L263.84,520.0L263.84,513.5L264.50,513.5L264.50,508.5L265.16,508.5L265.16,505.5L265.82,505.5L265.82,496.6L266.48,496.6L266.48,495.2L267.14,495.2L267.14,504.3L267.80,504.3L267.80,513.9L268.46,513.9L268.46,507.6L269.12,507.6L269.12,501.4L269.78,501.4L269.78,508.5L270.44,508.5L270.44,518.4L271.10,518.4L271.10,519.4L271.76,519.4L271.76,508.9L272.42,508.9L272.42,518.7L273.08,518.7L273.08,524.3L273.74,524.3L273.74,532.0L274.40,532.0L274.40,532.0L275.06,532.0L275.06,521.1L275.72,521.1L275.72,519.5L276.38,519.5L276.38,516.7L277.04,516.7L277.04,513.8L277.70,513.8L277.70,521.3L278.36,521.3L278.36,509.4L279.02,509.4L279.02,510.6L279.68,510.6L279.68,511.4L280.34,511.4L280.34,514.2L281.00,514.2L281.00,500.8L281.66,500.8L281.66,472.7L282.32,472.7L282.32,500.7L282.98,500.7L282.98,494.3L283.64,494.3L283.64,492.0L284.30,492.0L284.30,499.4L284.96,499.4L284.96,483.5L285.62,483.5L285.62,510.5L286.28,510.5L286.28,470.1L286.94,470.1L286.94,484.5L287.60,484.5L287.60,487.3L288.26,487.3L288.26,499.0L288.92,499.0L288.92,516.6L289.58,516.6L289.58,511.4L290.24,511.4L290.24,520.3L290.90,520.3L290.90,526.3L291.56,526.3L291.56,525.7L292.22,525.7L292.22,532.1L292.88,532.1L292.88,541.1L293.54,541.1L293.54,538.6L294.20,538.6L294.20,538.3L294.86,538.3L294.86,543.0L295.52,543.0L295.52,545.3L296.18,545.3L296.18,547.3L296.84,547.3L296.84,548.9L297.50,548.9L297.50,552.4L298.16,552.4L298.16,553.4L298.82,553.4L298.82,554.9Z" fill="#333"/><path d="M36.77,546.3H38.10V542.0H39.43V545.0H40.76V540.4H42.09V534.1H43.42V527.5H44.75V526.0H46.08V517.1H47.41V511.0H48.74V506.2H50.07V503.9H51.40V501.6H52.73V496.1H54.06V496.0H55.39V490.0H56.72V480.4H58.05V475.8H59.38V475.8H60.71V473.1H62.04V464.5H63.37V460.0H64.70V452.4H66.03V433.7H67.36V447.8H68.69V438.8H70.02V440.8H71.35V432.0H72.68V409.7H74.01V402.4H75.34V389.5H76.67V420.7H78.00V418.6H79.33V424.6H80.66V409.0H81.99V417.0H83.32V449.1H84.65V460.6H85.98V455.6H87.31V460.8H88.64V445.1H89.97V435.0H91.30V445.6H92.63V455.7H93.96V459.4H95.29V464.8H96.62V461.1H97.95V455.5H99.28V466.2H100.61V473.0H101.94V479.0H103.27V485.0H104.60V479.2H105.93V476.2H107.26V473.1H108.59V467.5H109.92V466.0H111.25V469.1H112.58V465.9H113.91V461.3H115.24V456.5H116.57V461.1H117.90V461.2H119.23V464.2H120.56V459.3H121.89V455.3H123.22V445.9H124.55V460.1H125.88V460.0H127.21V456.9H128.54V458.5H129.87V464.8H131.20V462.4H132.53V470.8H133.86V464.7H135.19V459.6H136.52V462.0H137.85V448.5H139.18V422.0H140.51V438.6H141.84V428.2H143.17V435.3H144.50V453.1H145.83V449.1H147.16V453.5H148.49V467.8H149.82V476.4H151.15V470.3H152.48V476.6H153.81V476.6H155.14V466.3H156.47V468.9H157.80V465.1H159.13V466.3H160.46V463.0H161.79V470.5H163.12V470.4H164.45V472.3H165.78V467.1H167.11V471.3H168.44V469.9H169.77V470.6H171.10V464.4H172.43V469.0H173.76V460.5H175.09V469.1H176.42V472.2H177.75V467.7H179.08V467.0H180.41V466.7H181.74V472.2H183.07V477.6H184.40V478.5H185.73V477.9H187.06V469.6H188.39V470.9H189.72V477.7H191.05V478.8H192.38V478.4H193.71V473.4H195.04V472.7H196.37V475.3H197.70V470.7H199.03V471.4H200.36V468.5H201.69V475.3H203.02V468.5H204.35V460.3H205.68V456.2H207.01V455.2H208.34V459.4H209.67V453.2H211.00V446.9H212.33V456.4H213.66V461.8H214.99V459.8H216.32V464.0H217.65V463.2H218.98V461.8H220.31V458.3H221.64V457.7H222.97V454.0H224.30V454.3H225.63V456.3H226.96V461.3H228.29V457.2H229.62V462.4H230.95V463.8H232.28V465.4H233.61V468.8H234.94V466.5H236.27V463.9H237.60V464.5H238.93V462.8H240.26V462.8H241.59V458.6H242.92V453.2H244.25V453.2H245.58V457.1H246.91V464.1H248.24V459.2H249.57V455.9H250.90V452.9H252.23V448.6H253.56V450.6H254.89V457.5H256.22V466.6H257.55V471.0H258.88V475.7H260.21V473.5H261.54V465.2H262.87V458.0H264.20V459.9H265.53V465.2H266.86V453.7H268.19V460.5H269.52V469.8H270.85V463.1H272.18V459.5H273.51V460.6H274.84V455.1H276.17V461.1H277.50V450.7H278.83V438.9H280.16V426.4H281.49V428.0H282.82V434.4H284.15V426.3H285.48V431.1H286.81V444.4H288.14V450.6H289.47V432.4H290.80V415.9H292.13V404.9H293.46V402.4H294.79V433.5H296.12V474.2H297.45V507.1H298.78V531.0H300.11V544.0H301.44V554.9H302.77" fill="none" stroke="#3f7fbf" stroke-width="0.55"/><path d="M36.77,548.5H38.10V548.1H39.43V543.6H40.76V540.4H42.09V535.2H43.42V529.7H44.75V526.5H46.08V521.4H47.41V517.2H48.74V510.0H50.07V509.6H51.40V504.8H52.73V500.9H54.06V499.4H55.39V497.1H56.72V492.0H58.05V484.0H59.38V484.2H60.71V476.8H62.04V476.9H63.37V469.5H64.70V464.8H66.03V456.1H67.36V464.7H68.69V461.4H70.02V448.7H71.35V440.5H72.68V432.0H74.01V414.2H75.34V402.5H76.67V430.4H78.00V435.0H79.33V449.3H80.66V454.3H81.99V440.2H83.32V462.5H84.65V472.8H85.98V476.9H87.31V479.9H88.64V477.8H89.97V477.9H91.30V469.0H92.63V468.4H93.96V468.3H95.29V475.2H96.62V474.7H97.95V474.7H99.28V484.5H100.61V485.5H101.94V487.2H103.27V491.8H104.60V487.1H105.93V485.5H107.26V485.2H108.59V477.6H109.92V481.0H111.25V479.4H112.58V479.2H113.91V476.7H115.24V476.9H116.57V480.3H117.90V482.8H119.23V482.9H120.56V479.9H121.89V475.6H123.22V469.1H124.55V472.7H125.88V462.5H127.21V470.3H128.54V472.3H129.87V479.8H131.20V479.8H132.53V482.3H133.86V485.1H135.19V482.2H136.52V475.4H137.85V476.9H139.18V466.8H140.51V469.4H141.84V475.7H143.17V465.8H144.50V474.2H145.83V478.5H147.16V472.3H148.49V478.5H149.82V475.2H151.15V485.8H152.48V479.7H153.81V476.6H155.14V480.0H156.47V476.2H157.80V480.2H159.13V475.4H160.46V478.0H161.79V474.1H163.12V474.5H164.45V479.7H165.78V477.5H167.11V480.9H168.44V476.0H169.77V481.8H171.10V474.1H172.43V472.4H173.76V468.8H175.09V474.3H176.42V479.9H177.75V484.0H179.08V484.1H180.41V486.3H181.74V485.2H183.07V487.6H184.40V486.8H185.73V484.7H187.06V483.6H188.39V486.0H189.72V484.8H191.05V484.9H192.38V485.2H193.71V486.3H195.04V482.3H196.37V479.5H197.70V477.4H199.03V476.9H200.36V481.0H201.69V477.9H203.02V473.7H204.35V466.8H205.68V461.9H207.01V461.8H208.34V457.7H209.67V465.1H211.00V463.9H212.33V469.4H213.66V466.5H214.99V470.8H216.32V470.0H217.65V471.1H218.98V470.9H220.31V469.8H221.64V469.3H222.97V470.2H224.30V470.5H225.63V463.7H226.96V463.4H228.29V464.0H229.62V469.3H230.95V470.2H232.28V474.4H233.61V476.1H234.94V476.5H236.27V474.2H237.60V474.1H238.93V471.3H240.26V468.4H241.59V474.6H242.92V472.4H244.25V472.1H245.58V475.3H246.91V472.9H248.24V476.2H249.57V473.7H250.90V473.3H252.23V474.6H253.56V472.6H254.89V477.1H256.22V480.6H257.55V477.5H258.88V482.0H260.21V488.0H261.54V479.4H262.87V477.5H264.20V475.2H265.53V470.0H266.86V469.6H268.19V471.0H269.52V475.9H270.85V474.7H272.18V473.1H273.51V466.6H274.84V468.5H276.17V462.9H277.50V457.6H278.83V451.9H280.16V444.7H281.49V446.8H282.82V443.0H284.15V445.8H285.48V450.2H286.81V456.2H288.14V460.8H289.47V462.4H290.80V448.7H292.13V439.8H293.46V436.5H294.79V454.7H296.12V484.2H297.45V510.3H298.78V533.8H300.11V551.4H301.44" fill="none" stroke="#e8383b" stroke-width="0.55"/><line x1="50.6" x2="50.6" y1="376.5" y2="563.3" stroke="#888" stroke-width="0.45" stroke-dasharray="1.5,1.5"/><line x1="77.2" x2="77.2" y1="376.5" y2="563.3" stroke="#888" stroke-width="0.45" stroke-dasharray="1.5,1.5"/><line x1="99.7" x2="99.7" y1="376.5" y2="563.3" stroke="#888" stroke-width="0.45" stroke-dasharray="1.5,1.5"/><line x1="178.6" x2="178.6" y1="376.5" y2="563.3" stroke="#888" stroke-width="0.45" stroke-dasharray="1.5,1.5"/><line x1="198.5" x2="198.5" y1="376.5" y2="563.3" stroke="#888" stroke-width="0.45" stroke-dasharray="1.5,1.5"/><line x1="300.8" x2="300.8" y1="376.5" y2="563.3" stroke="#888" stroke-width="0.45" stroke-dasharray="1.5,1.5"/><rect x="86.0" y="381.3" width="24.6" height="8" rx="1.3" fill="#fff" stroke="#444" stroke-width="0.45"/><text x="98.3" y="387.3" font-size="5.6" text-anchor="middle" fill="#000">p = 0.04</text><rect x="66.6" y="381.3" width="21.6" height="8" rx="1.3" fill="#fff" stroke="#444" stroke-width="0.45"/><text x="77.4" y="387.3" font-size="5.6" text-anchor="middle" fill="#000">p = 0.04</text><rect x="38.8" y="381.3" width="23.5" height="8" rx="1.3" fill="#fff" stroke="#444" stroke-width="0.45"/><text x="50.5" y="387.3" font-size="5.6" text-anchor="middle" fill="#000">p &lt; 0.01</text><rect x="165.7" y="381.3" width="65.5" height="8" rx="1.3" fill="#fff" stroke="#444" stroke-width="0.45"/><text x="229.8" y="387.3" font-size="5.6" text-anchor="end" fill="#000">0000000000001</text><rect x="165.7" y="381.3" width="24.1" height="8" rx="1.3" fill="#fff" stroke="#444" stroke-width="0.45"/><text x="177.8" y="387.3" font-size="5.6" text-anchor="middle" fill="#000">p = 0.08</text><rect x="288.6" y="381.3" width="23.2" height="8" rx="1.3" fill="#fff" stroke="#444" stroke-width="0.45"/><text x="300.2" y="387.3" font-size="5.6" text-anchor="middle" fill="#000">p = 0.05</text><line x1="276.5" x2="283.8" y1="409.3" y2="409.3" stroke="#e8383b" stroke-width="0.55"/><line x1="276.5" x2="283.8" y1="418.7" y2="418.7" stroke="#3f7fbf" stroke-width="0.55"/><text x="287.4" y="411" font-size="4.6" fill="#000">q0.9</text><text x="287.4" y="420.4" font-size="4.6" fill="#000">q0.95</text><rect x="24.5" y="3.5" width="292.0" height="181.0" fill="none" stroke="#777" stroke-width="0.9"/><rect x="24.5" y="184.5" width="292.0" height="192.0" fill="none" stroke="#777" stroke-width="0.9"/><rect x="24.5" y="376.5" width="292.0" height="186.79999999999995" fill="none" stroke="#777" stroke-width="0.9"/><g font-size="4.6" fill="#5a5a5a" text-anchor="end"><text x="21.4" y="13.3">-8.0</text><line x1="22.6" x2="24.5" y1="11.0" y2="11.0" stroke="#444" stroke-width="0.5"/><text x="21.4" y="54.7">-7.5</text><line x1="22.6" x2="24.5" y1="52.4" y2="52.4" stroke="#444" stroke-width="0.5"/><text x="21.4" y="96.1">-7.0</text><line x1="22.6" x2="24.5" y1="93.8" y2="93.8" stroke="#444" stroke-width="0.5"/><text x="21.4" y="137.5">-6.5</text><line x1="22.6" x2="24.5" y1="135.2" y2="135.2" stroke="#444" stroke-width="0.5"/><text x="21.4" y="178.9">-6.0</text><line x1="22.6" x2="24.5" y1="176.6" y2="176.6" stroke="#444" stroke-width="0.5"/><text x="21.4" y="196.3">-8.0</text><line x1="22.6" x2="24.5" y1="194.0" y2="194.0" stroke="#444" stroke-width="0.5"/><text x="21.4" y="240.3">-7.5</text><line x1="22.6" x2="24.5" y1="238.0" y2="238.0" stroke="#444" stroke-width="0.5"/><text x="21.4" y="284.3">-7.0</text><line x1="22.6" x2="24.5" y1="282.0" y2="282.0" stroke="#444" stroke-width="0.5"/><text x="21.4" y="328.3">-6.5</text><line x1="22.6" x2="24.5" y1="326.0" y2="326.0" stroke="#444" stroke-width="0.5"/><text x="21.4" y="372.3">-6.0</text><line x1="22.6" x2="24.5" y1="370.0" y2="370.0" stroke="#444" stroke-width="0.5"/><text x="21.4" y="395.0">0.100</text><line x1="22.6" x2="24.5" y1="392.7" y2="392.7" stroke="#444" stroke-width="0.5"/><text x="21.4" y="435.6">0.075</text><line x1="22.6" x2="24.5" y1="433.2" y2="433.2" stroke="#444" stroke-width="0.5"/><text x="21.4" y="476.1">0.050</text><line x1="22.6" x2="24.5" y1="473.8" y2="473.8" stroke="#444" stroke-width="0.5"/><text x="21.4" y="516.6">0.025</text><line x1="22.6" x2="24.5" y1="514.4" y2="514.4" stroke="#444" stroke-width="0.5"/><text x="21.4" y="557.2">0.000</text><line x1="22.6" x2="24.5" y1="554.9" y2="554.9" stroke="#444" stroke-width="0.5"/></g><g font-size="4.6" fill="#5a5a5a" text-anchor="middle"><text x="37.4" y="569.8">10000</text><line x1="37.4" x2="37.4" y1="563.3" y2="565.1999999999999" stroke="#444" stroke-width="0.5"/><text x="126.1" y="569.8">9000</text><line x1="126.1" x2="126.1" y1="563.3" y2="565.1999999999999" stroke="#444" stroke-width="0.5"/><text x="214.7" y="569.8">8000</text><line x1="214.7" x2="214.7" y1="563.3" y2="565.1999999999999" stroke="#444" stroke-width="0.5"/><text x="303.4" y="569.8">7000</text><line x1="303.4" x2="303.4" y1="563.3" y2="565.1999999999999" stroke="#444" stroke-width="0.5"/></g><text x="170" y="575.8" font-size="5.6" text-anchor="middle" fill="#000">age (yr BP)</text><text transform="translate(8,94) rotate(-90)" font-size="5.6" text-anchor="middle" fill="#000">d18O, permil</text><text transform="translate(8,281.5) rotate(-90)" font-size="5.6" text-anchor="middle" fill="#000">d18O (permil)</text><text transform="translate(8,469.7) rotate(-90)" font-size="5.8" text-anchor="middle" fill="#000">Shift Frequency</text></svg></body></html>
